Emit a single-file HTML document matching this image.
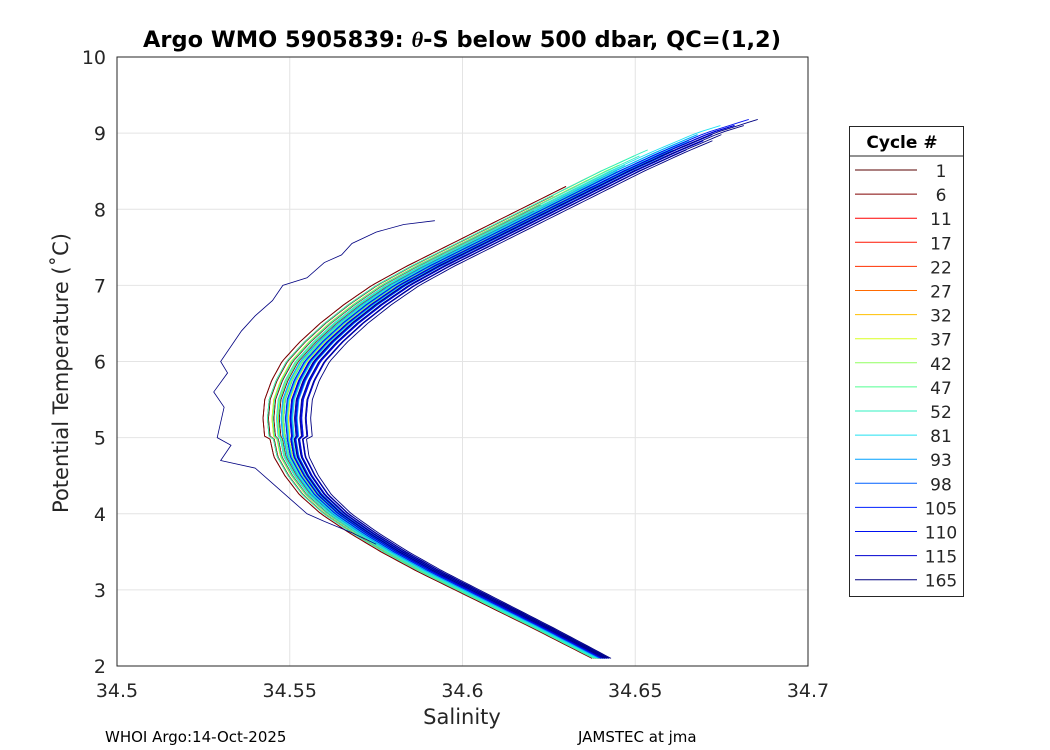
<!DOCTYPE html>
<html><head><meta charset="utf-8"><style>
body{margin:0;background:#fff;font-family:"DejaVu Sans","Liberation Sans",sans-serif}
svg{display:block}
</style></head><body>
<svg id="c" width="1050" height="750" xmlns="http://www.w3.org/2000/svg" font-family="DejaVu Sans, Liberation Sans, sans-serif"></svg>
<script>
const baseT=[2.1,2.5,2.75,3,3.25,3.5,3.75,4,4.25,4.5,4.75,5,5.25,5.5,5.75,6,6.25,6.5,6.75,7,7.25,7.5,7.75,8,8.25,8.5,8.75,9,9.2];
const baseS=[34.640,34.623,34.612,34.601,34.590,34.580,34.571,34.563,34.557,34.553,34.550,34.549,34.5485,34.549,34.551,34.554,34.559,34.565,34.572,34.580,34.590,34.601,34.612,34.623,34.634,34.645,34.657,34.670,34.684];
const cycles=["1","6","11","17","22","27","32","37","42","47","52","81","93","98","105","110","115","165"];
const colors=["#5a0000","#800000","#ff0000","#ff1500","#ff3000","#ff6a00","#ffbf00","#d8ff20","#90ff60","#50ff90","#30f0c0","#20e0f0","#00a0ff","#0060ff","#0020ff","#0010f0","#0000d0","#000080"];
const offsets=[-0.003,-0.003,-0.002,-0.002,-0.002,-0.001,0,-0.001,-0.002,-0.002,-0.002,0,0.001,0.002,0.003,0.002,0.003,0.004];
const tmaxs=[8.3,8.3,8.4,8.3,8.5,8.4,8.5,8.6,8.7,8.7,8.8,9.1,9.0,9.0,9.1,9.2,9.1,9.2];
const oddS=[34.592,34.583,34.575,34.568,34.565,34.560,34.555,34.548,34.545,34.540,34.536,34.530,34.532,34.528,34.531,34.529,34.533,34.530,34.540,34.545,34.550,34.555,34.560,34.568,34.575];
const oddT=[7.85,7.8,7.7,7.55,7.4,7.3,7.1,7.0,6.8,6.6,6.4,6.0,5.85,5.6,5.4,5.0,4.9,4.7,4.6,4.4,4.2,4.0,3.9,3.75,3.6];
const xTicks=[34.5,34.55,34.6,34.65,34.7];
const yTicks=[2,3,4,5,6,7,8,9,10];
const L=117,R=808,T=57,B=666;
const xs=s=>L+(s-34.5)/0.2*(R-L), ys=t=>B-(t-2)/8*(B-T);
const svg=document.getElementById('c');const NS="http://www.w3.org/2000/svg";
function mk(tag,a,p){const e=document.createElementNS(NS,tag);for(const k in a)e.setAttribute(k,a[k]);(p||svg).appendChild(e);return e;}
const plot=mk('rect',{x:L,y:T,width:R-L,height:B-T,fill:'#fff',stroke:'none'});


xTicks.forEach(v=>{const g=mk('line',{x1:xs(v),x2:xs(v),y1:T,y2:B,stroke:'#e4e4e4'});

const t=mk('text',{x:xs(v),y:697,'text-anchor':'middle','font-size':19,fill:'#262626'});t.textContent=v;
});
yTicks.forEach(v=>{const g=mk('line',{x1:L,x2:R,y1:ys(v),y2:ys(v),stroke:'#e4e4e4'});

const t=mk('text',{x:106,y:ys(v)+7,'text-anchor':'end','font-size':19,fill:'#262626'});t.textContent=v;
});
function interpS(t){for(let i=0;i<baseT.length-1;i++){if(t<=baseT[i+1]){const f=(t-baseT[i])/(baseT[i+1]-baseT[i]);return baseS[i]+f*(baseS[i+1]-baseS[i]);}}return baseS[baseS.length-1];}
cycles.forEach((c,i)=>{for(let k=0;k<4;k++){const pts=[];const o=offsets[i]+(k-1.5)*0.0012;
for(let t=2.1;t<=tmaxs[i]-k*0.1;t+=0.04){const w=t<5?(1-(5-t)/6):1.3;pts.push(xs(interpS(t)+o*w)+','+ys(t));}
const p=mk('polyline',{points:pts.join(' '),fill:'none',stroke:colors[i],'stroke-width':0.9});
}});
const op=mk('polyline',{points:oddS.map((s,i)=>xs(s)+','+ys(oddT[i])).join(' '),fill:'none',stroke:'#000080','stroke-width':0.8});

const fr=mk('rect',{x:L,y:T,width:R-L,height:B-T,fill:'none',stroke:'#262626'});

let t=mk('text',{x:462,y:47,'text-anchor':'middle','font-size':22.5,'font-weight':'bold'});t.innerHTML='Argo WMO 5905839: <tspan font-style="italic" font-family="Liberation Serif">θ</tspan>-S below 500 dbar,  QC=(1,2)';

t=mk('text',{x:462,y:724,'text-anchor':'middle','font-size':21,fill:'#262626'});t.textContent='Salinity';

t=mk('text',{x:68,y:373,'text-anchor':'middle','font-size':21,fill:'#262626',transform:'rotate(-90 68 373)'});t.textContent='Potential Temperature (˚C)';

t=mk('text',{x:105,y:742,'font-size':15});t.textContent='WHOI Argo:14-Oct-2025';

t=mk('text',{x:578,y:742,'font-size':15});t.textContent='JAMSTEC at jma';

const lg=mk('g',{});
mk('rect',{x:849.5,y:126.5,width:114,height:470,fill:'#fff',stroke:'#262626'},lg);
mk('line',{x1:849.5,x2:963.5,y1:156,y2:156,stroke:'#262626'},lg);
t=mk('text',{x:902,y:148,'text-anchor':'middle','font-size':17,'font-weight':'bold'},lg);t.textContent='Cycle #';
cycles.forEach((c,i)=>{const y=170+i*24.1;
const l=mk('line',{x1:855,x2:917,y1:y,y2:y,stroke:colors[i]},lg);

const tx=mk('text',{x:941,y:y+7,'text-anchor':'middle','font-size':17,fill:'#262626'},lg);tx.textContent=c;
});
</script>
</body></html>
